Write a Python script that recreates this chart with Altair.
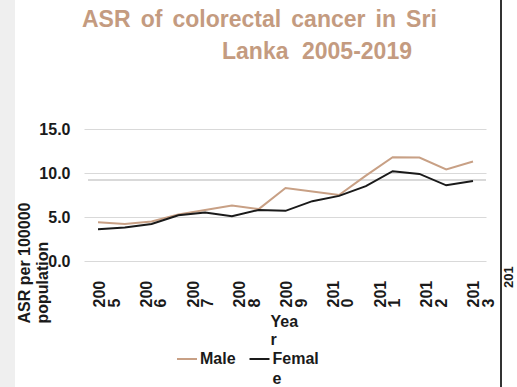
import altair as alt
import pandas as pd

# Age-standardised rates per 100,000 population
years = list(range(2005, 2020))
male = [4.4, 4.2, 4.5, 5.3, 5.8, 6.3, 5.9, 8.3, 7.9, 7.5, 9.7, 11.8, 11.75, 10.4, 11.3]
female = [3.6, 3.8, 4.2, 5.2, 5.5, 5.1, 5.8, 5.7, 6.8, 7.4, 8.5, 10.2, 9.9, 8.6, 9.1]
series = ["Male", "Female"]
series_colors = ["#c8a085", "#1a1a1a"]
legend_labels = ["Male", "Femal\ne"]

# category labels printed along the horizontal axis
axis_years = [str(y) for y in range(2005, 2014)]
y_ticks = [0, 5, 10, 15]
ref_level = 9.2

title_words_1 = ["ASR", "of", "colorectal", "cancer", "in", "Sri"]
title_words_2 = ["Lanka", "2005-2019"]
stub_label = "201"

FONT = "Liberation Sans"
TITLE_COLOR = "#c49b80"
INK = "#1a1a1a"

df = pd.DataFrame({
    "Year": years * 2,
    "ASR": male + female,
    "Sex": ["Male"] * len(years) + ["Female"] * len(years),
})
one = pd.DataFrame({"k": [0]})
labels_df = pd.DataFrame({"Label": axis_years})
legend_df = pd.DataFrame({"Sex": series, "Label": legend_labels})

color_scale = alt.Scale(domain=series, range=series_colors)

lines = alt.Chart(df).mark_line(strokeWidth=2).encode(
    x=alt.X("Year:Q", scale=alt.Scale(domain=[2004.477, 2019.485], nice=False, zero=False), axis=None),
    y=alt.Y(
        "ASR:Q",
        scale=alt.Scale(domain=[0, 15], nice=False),
        axis=alt.Axis(
            values=y_ticks, format=".1f",
            title=["ASR per 100000", "population"],
            titleAngle=270, titleAlign="left", titleBaseline="top",
            titleX=-68, titleY=194, titleFont=FONT, titleFontSize=16,
            titleFontWeight="bold", titleLineHeight=18, titleColor=INK,
            labelFont=FONT, labelFontSize=16, labelFontWeight="bold", labelColor=INK,
            labelPadding=14, ticks=False, domain=False,
            grid=True, gridColor="#d9d9d9", gridWidth=1,
        ),
    ),
    color=alt.Color("Sex:N", scale=color_scale, legend=None),
)

ref_rule = alt.Chart(one).mark_rule(color="#d9d9d9", strokeWidth=2).encode(
    y=alt.datum(ref_level), x=alt.value(4), x2=alt.value(402)
)

year_axis = alt.Chart(labels_df).mark_point(opacity=0).encode(
    x=alt.X(
        "Label:N", sort=axis_years,
        scale=alt.Scale(type="point", padding=0.2995, align=0.268),
        axis=alt.Axis(
            title=["Yea", "r"], titleX=186, titleY=65, titleAlign="left",
            titleBaseline="alphabetic", titleAngle=0, titleFont=FONT, titleFontSize=16,
            titleFontWeight="bold", titleLineHeight=18, titleColor=INK,
            labelAngle=270, labelAlign="left", labelBaseline="top", labelPadding=46,
            labelFont=FONT, labelFontSize=16, labelFontWeight="bold", labelColor=INK,
            labelLineHeight=14.5, labelOverlap=False,
            labelExpr="[substring(datum.label, 0, 3), substring(datum.label, 3)]",
            ticks=False, tickSize=0, domain=False, grid=False,
        ),
    ),
)

# legend: a short stroke per series followed by its label
legend_x = alt.X("Sex:N", scale=alt.Scale(type="point", domain=series, range=[103, 175.5], padding=0), axis=None)
legend_swatches = alt.Chart(legend_df).mark_tick(
    orient="horizontal", size=20, thickness=2, opacity=1
).encode(
    x=legend_x, y=alt.value(230),
    color=alt.Color("Sex:N", scale=color_scale, legend=None),
)
legend_text = alt.Chart(legend_df).mark_text(
    align="left", baseline="alphabetic", dx=13, lineBreak="\n", lineHeight=20,
    font=FONT, fontSize=16, fontWeight="bold", color=INK,
).encode(x=legend_x, y=alt.value(235), text="Label:N")

side_strip = alt.Chart(one).mark_rect(color="#efefef").encode(
    x=alt.value(-84), x2=alt.value(-69), y=alt.value(-129), y2=alt.value(258)
)
divider = alt.Chart(one).mark_rule(color="#333333", strokeWidth=2).encode(
    x=alt.value(417), y=alt.value(-129), y2=alt.value(258)
)
stub = alt.Chart(one).mark_text(
    text=stub_label, angle=270, align="left", baseline="top",
    font=FONT, fontSize=13, fontWeight="bold", color=INK,
).encode(x=alt.value(419), y=alt.value(159))


def title_word(text, x, y):
    return alt.Chart(one).mark_text(
        text=text, align="left", baseline="alphabetic",
        font=FONT, fontSize=23, fontWeight="bold", color=TITLE_COLOR,
    ).encode(x=alt.value(x), y=alt.value(y))


# justified two-line heading: left edge of each word
line1_x = [-2, 56.7, 88.5, 207.3, 291.6, 322.1]
line2_x = [138, 218]
titles = [title_word(w, x, -102) for w, x in zip(title_words_1, line1_x)]
titles += [title_word(w, x, -70) for w, x in zip(title_words_2, line2_x)]

chart = alt.layer(
    side_strip, ref_rule, lines, year_axis, legend_swatches, legend_text,
    divider, stub, *titles
).resolve_scale(x="independent").properties(
    width=402, height=132,
    autosize=alt.AutoSizeParams(type="none"),
    padding={"left": 84, "top": 129, "right": 31, "bottom": 126},
    background="white",
).configure(view={"strokeWidth": 0})

chart.save("out.html", embed_options={"renderer": "svg", "actions": False})
